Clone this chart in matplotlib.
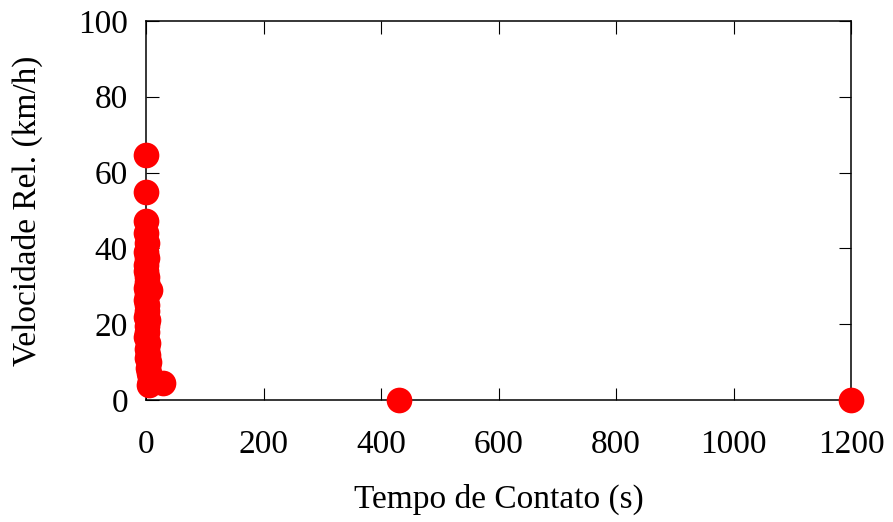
import matplotlib
matplotlib.use("Agg")
import matplotlib.pyplot as plt

# tempo de contato (s) x velocidade relativa (km/h)
tempo = [0, 0, 0.5, 0.3, 1, 0.2, 1.5, 0.8, 0.4, 2, 1, 0.5, 6, 1.5, 0.3, 2.5, 1,
         0.6, 3, 1.2, 2, 0.5, 4, 1.5, 3, 2, 5, 3.5, 4.5, 6, 7, 5, 29, 430, 1200]
velocidade = [64.5, 54.8, 47.3, 44, 41.5, 39, 37.5, 35.5, 34, 32.5, 31, 29.5, 29,
              28, 26.5, 25, 23.5, 22, 21, 19.5, 18, 16.5, 15, 13.5, 12, 11, 10,
              8.5, 7, 6, 5, 4, 4.5, 0, 0]

xticks = [0, 200, 400, 600, 800, 1000, 1200]
yticks = [0, 20, 40, 60, 80, 100]

plt.rcParams['font.family'] = ['Liberation Serif', 'DejaVu Serif']

fig = plt.figure(figsize=(8.93, 5.22), dpi=100)
ax = fig.add_axes([0.1635, 0.2337, 0.7895, 0.7263])

ax.plot(tempo, velocidade, 'o', color='#ff0000', markersize=18.5,
        markeredgewidth=0, clip_on=False, zorder=3)

ax.set_xlim(0, 1200)
ax.set_ylim(0, 100)
ax.set_xticks(xticks)
ax.set_yticks(yticks)
ax.tick_params(direction='in', length=9, width=0.8, top=True, right=True,
               labelsize=24)
ax.tick_params(axis='x', pad=21)
ax.tick_params(axis='y', pad=13)
for s in ax.spines.values():
    s.set_linewidth(1.1)

ax.set_xlabel('Tempo de Contato (s)', fontsize=24, labelpad=17)
ax.set_ylabel('Velocidade Rel. (km/h)', fontsize=24, labelpad=25)

fig.savefig('out.png', dpi=100)
